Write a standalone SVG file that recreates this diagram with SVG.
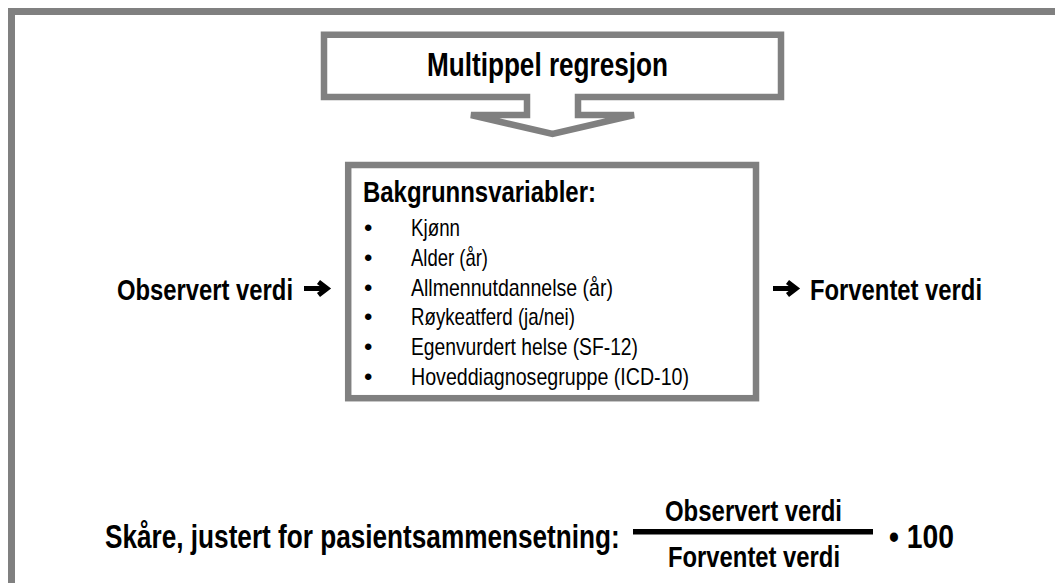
<svg xmlns="http://www.w3.org/2000/svg" width="1055" height="583" viewBox="0 0 1055 583">
  <style>
    .frame { fill: none; stroke: #808080; stroke-width: 7; stroke-linejoin: miter; }
    .box { fill: #ffffff; stroke: #808080; stroke-width: 6.5; stroke-linejoin: miter; }
    .t { font-family: "Liberation Sans Narrow", "Liberation Sans", Arial, sans-serif; fill: #000000; }
    .b { font-weight: bold; }
    .h1 { font-size: 33px; }
    .h2 { font-size: 30px; }
    .it { font-size: 24px; }
    .arrow { fill: none; stroke: #000000; stroke-width: 5; stroke-linejoin: miter; stroke-linecap: butt; }
  </style>
  <rect x="0" y="0" width="1055" height="583" fill="#ffffff"/>
  <path class="frame" d="M11.5,583 V11.5 H1055"/>

  <g id="node-regression">
    <path class="box" d="M324,34.7 H781 V97 H578 V115 H634 L552.5,134 L471,115 H527 V97 H324 Z"/>
    <text class="t b h1" x="427" y="76" textLength="241" lengthAdjust="spacingAndGlyphs">Multippel regresjon</text>
  </g>

  <g id="node-variables">
    <rect class="box" x="348.2" y="165" width="407.8" height="233.2"/>
    <text class="t b h2" x="363" y="202" textLength="233" lengthAdjust="spacingAndGlyphs">Bakgrunnsvariabler:</text>
    <g class="t it">
      <text x="364" y="236">•</text>
      <text x="411" y="236" textLength="49" lengthAdjust="spacingAndGlyphs">Kjønn</text>
      <text x="364" y="265.8">•</text>
      <text x="411" y="265.8" textLength="77" lengthAdjust="spacingAndGlyphs">Alder (år)</text>
      <text x="364" y="295.6">•</text>
      <text x="411" y="295.6" textLength="202" lengthAdjust="spacingAndGlyphs">Allmennutdannelse (år)</text>
      <text x="364" y="325.4">•</text>
      <text x="411" y="325.4" textLength="164" lengthAdjust="spacingAndGlyphs">Røykeatferd (ja/nei)</text>
      <text x="364" y="355.2">•</text>
      <text x="411" y="355.2" textLength="227" lengthAdjust="spacingAndGlyphs">Egenvurdert helse (SF-12)</text>
      <text x="364" y="385">•</text>
      <text x="411" y="385" textLength="278" lengthAdjust="spacingAndGlyphs">Hoveddiagnosegruppe (ICD-10)</text>
    </g>
  </g>

  <g id="node-observed">
    <text class="t b h2" x="117" y="300" textLength="176" lengthAdjust="spacingAndGlyphs">Observert verdi</text>
  </g>

  <g id="node-expected">
    <text class="t b h2" x="810" y="300" textLength="172" lengthAdjust="spacingAndGlyphs">Forventet verdi</text>
  </g>

  <g id="connectors">
    <path class="arrow" d="M304,288.5 H326 M318.5,282 L327,288.5 L318.5,295"/>
    <path class="arrow" d="M773,288.5 H795 M787.5,282 L796,288.5 L787.5,295"/>
  </g>

  <g id="node-formula">
    <text class="t b h1" transform="translate(105,548) scale(0.7935,1)" x="0" y="0">Skåre, justert for pasientsammensetning:</text>
    <text class="t b h2" x="665" y="521" textLength="177" lengthAdjust="spacingAndGlyphs">Observert verdi</text>
    <rect x="633" y="529" width="240" height="5.5" fill="#000000"/>
    <text class="t b h2" x="668" y="567" textLength="172" lengthAdjust="spacingAndGlyphs">Forventet verdi</text>
    <text class="t b h1" x="889" y="548" textLength="65" lengthAdjust="spacingAndGlyphs">• 100</text>
  </g>
</svg>
